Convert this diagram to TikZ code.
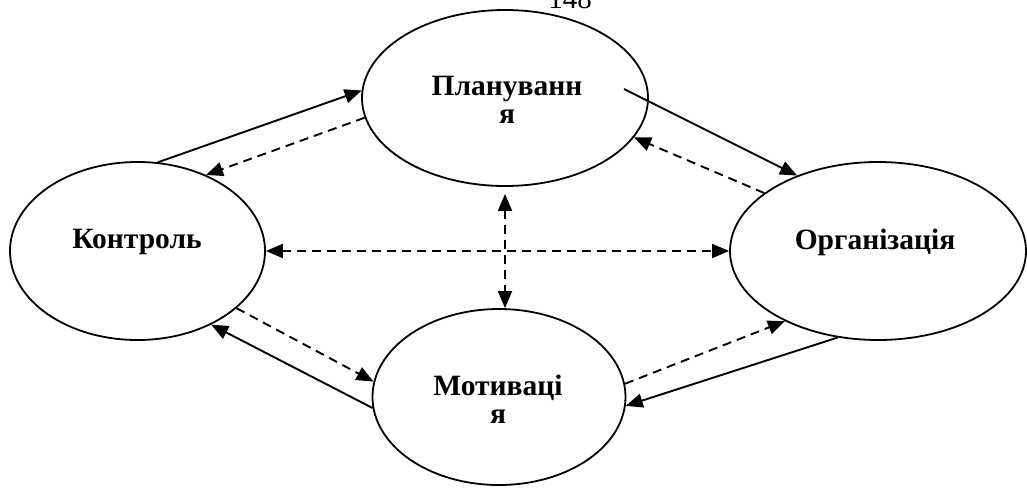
\documentclass[tikz,border=0pt]{standalone}
\usepackage{fontspec}
\setmainfont{Liberation Serif}
\usetikzlibrary{shapes.geometric,arrows.meta,calc}

\tikzset{
  stage/.style={draw, ellipse, line width=1.8pt, inner sep=0pt},
  lbl/.style={font=\bfseries\fontsize{29.5}{28}\selectfont, inner sep=0pt, align=center},
  tip/.tip={Triangle[length=17pt,width=14pt]},
  flow/.style={line width=1.9pt, -tip},
  back/.style={flow, dash pattern=on 9pt off 6pt},
  both/.style={line width=1.9pt, dash pattern=on 9pt off 6pt, tip-tip},
}

\begin{document}
\begin{tikzpicture}[x=1pt, y=-1pt]
  \useasboundingbox (0,0) rectangle (1027,488);

  % page number, cut by the top edge
  \node[anchor=base, font=\fontsize{29}{29}\selectfont, inner sep=0pt] (pg) at (570,8.3) {148};

  % the four management functions
  \node[stage, minimum width=286pt, minimum height=176pt] (P) at (505,98) {};
  \node[stage, minimum width=255pt, minimum height=178pt] (K) at (137.5,251) {};
  \node[stage, minimum width=296pt, minimum height=178pt] (O) at (878,251) {};
  \node[stage, minimum width=253pt, minimum height=176pt] (M) at (499,397) {};

  \node[lbl, anchor=north] (Pt) at (507,76) {Плануванн\\я};
  \node[lbl, anchor=base] (Kt) at (137,248) {Контроль};
  \node[lbl, anchor=base] (Ot) at (875,249) {Організація};
  \node[lbl, anchor=north] (Mt) at (498,375) {Мотиваці\\я};

  % start of the planning-to-organisation link, inside the planning ellipse
  \coordinate (Pout) at ($(P.center)+(119,-9)$);

  % solid links, clockwise
  \draw[flow] (K.77.5) -- (P.177);
  \draw[flow] (Pout) -- (O.137.2);
  \draw[flow] (O.245.3) -- (M.-4.9);
  \draw[flow] (M.185.9) -- (K.-45.6);

  % dashed links, counter-clockwise
  \draw[back] (P.188.7) -- (K.48.5);
  \draw[back] (O.153.8) -- (P.-17.2);
  \draw[back] (M.6) -- (O.217.9);
  \draw[back] (K.-30.7) -- (M.173.3);

  % cross links
  \draw[both] (K.east) -- (O.west);
  \draw[both, shorten <=7pt] (P.south) -- (P.south |- M.north);
\end{tikzpicture}
\end{document}
